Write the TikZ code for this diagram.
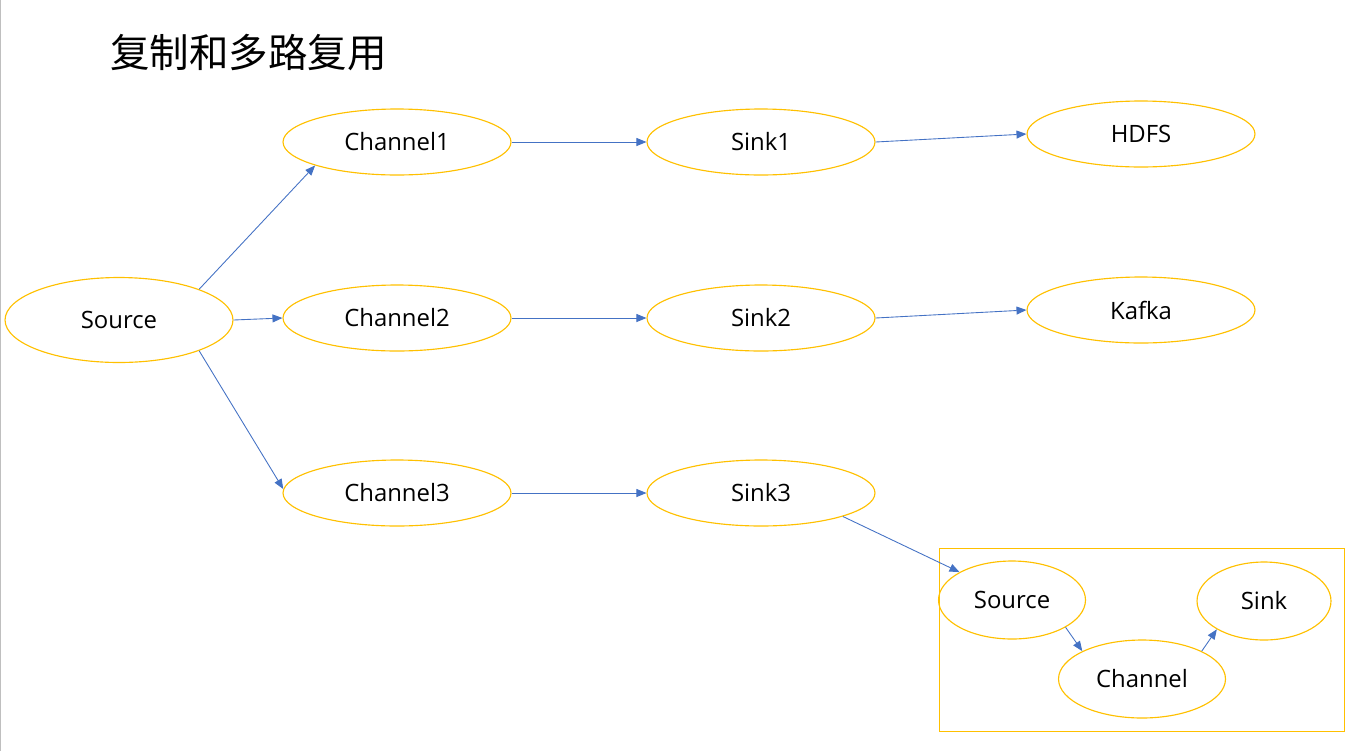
\documentclass[tikz,border=0pt]{standalone}
\usepackage{fontspec}
\setsansfont{Open Sans}
\newfontfamily\cjk{Noto Sans CJK SC}
\usetikzlibrary{arrows.meta,shapes.geometric}
\definecolor{flumegold}{HTML}{FFC000}
\definecolor{flumeblue}{HTML}{4472C4}
\begin{document}
\begin{tikzpicture}[
    x=0.02cm, y=-0.02cm,
    % Estilos de los nodos
    stage/.style={ellipse, draw=flumegold, line width=0.65pt, inner sep=0pt,
                  minimum width=4.56cm, minimum height=1.32cm,
                  font=\sffamily\fontsize{13.6}{15}\selectfont, text=black},
    smallstage/.style={stage, minimum height=1.56cm},
    % Estilo de las flechas
    flow/.style={draw=flumeblue, line width=0.5pt,
                 -{Triangle[length=2mm,width=1.6mm]}, shorten >=0pt}
]
\useasboundingbox (0,0) rectangle (1364,751);
\draw[gray!50, line width=0.8pt] (0.5,0) -- (0.5,751);

% --- TITULO ---
\node[font=\cjk\fontsize{22.5}{26}\selectfont, anchor=west] (title) at (104,53) {复制和多路复用};

% --- SOURCE Y CHANNELS ---
\node[stage, minimum height=1.7cm] (src) at (119,320) {Source};
\node[stage] (ch1) at (397,142) {Channel1};
\node[stage] (ch2) at (397,318) {Channel2};
\node[stage] (ch3) at (397,493) {Channel3};

% --- SINKS ---
\node[stage] (sink1) at (761,142) {Sink1};
\node[stage] (sink2) at (761,318) {Sink2};
\node[stage] (sink3) at (761,493) {Sink3};

% --- DESTINOS ---
\node[stage] (hdfs) at (1141,134) {HDFS};
\node[stage] (kafka) at (1141,310) {Kafka};

% --- SIGUIENTE AGENTE ---
\draw[flumegold, line width=0.55pt] (939,548) rectangle (1344,731);
\node[smallstage, minimum width=2.94cm] (src2) at (1012,600) {Source};
\node[smallstage, minimum width=3.34cm] (ch4) at (1142,679) {Channel};
\node[smallstage, minimum width=2.68cm] (sink4) at (1264,601) {Sink};

% --- FLECHAS ---
\draw[flow] (src.21) -- (ch1.196);
\draw[flow] (src.east) -- (ch2.west);
\draw[flow] (src.-21) -- (ch3.178);
\draw[flow] (ch1.east) -- (sink1.west);
\draw[flow] (ch2.east) -- (sink2.west);
\draw[flow] (ch3.east) -- (sink3.west);
\draw[flow] (sink1.east) -- (hdfs.west);
\draw[flow] (sink2.east) -- (kafka.west);
\draw[flow] (sink3.-16) -- (src2.152);
\draw[flow] (src2.-27) -- (ch4.155);
\draw[flow] (ch4.25) -- (sink4.211);

\end{tikzpicture}
\end{document}
